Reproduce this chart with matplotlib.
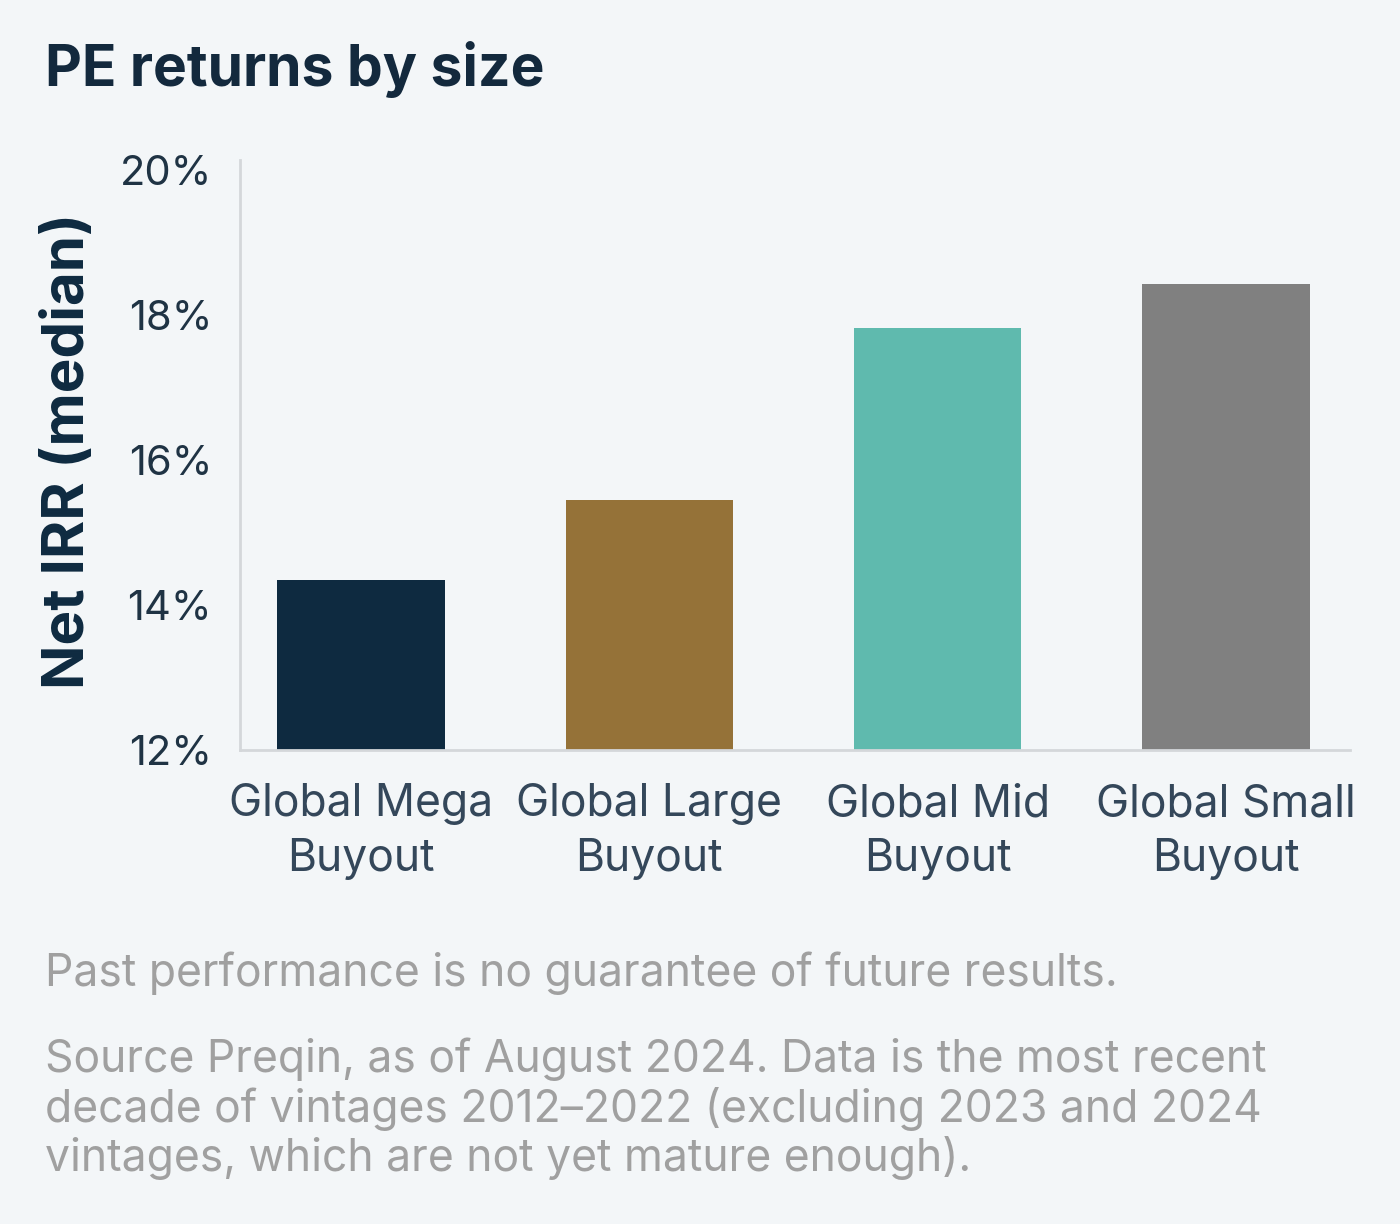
import matplotlib.pyplot as plt
from matplotlib.ticker import FuncFormatter

# data
categories = ['Global Mega\nBuyout', 'Global Large\nBuyout', 'Global Mid\nBuyout', 'Global Small\nBuyout']
net_irr = [14.35, 15.45, 17.82, 18.43]
bar_colors = ['#0e2a40', '#957238', '#5fbaae', '#808080']
y_ticks = [12, 14, 16, 18, 20]

bg = '#f3f6f8'
plt.rcParams['font.family'] = ['Inter', 'DejaVu Sans']

fig = plt.figure(figsize=(14, 12.24), dpi=100, facecolor=bg)
ax = fig.add_axes([0.1714, 0.3873, 0.7929, 0.482])
ax.set_facecolor(bg)

x = range(len(categories))
ax.bar(x, net_irr, width=0.58, color=bar_colors, zorder=2)

ax.set_ylim(12, 20.14)
ax.set_xlim(-0.42, 3.43)
ax.set_yticks(y_ticks)
ax.yaxis.set_major_formatter(FuncFormatter(lambda v, p: f'{v:.0f}%'))
ax.set_xticks(list(x))
ax.set_xticklabels(categories, fontsize=32, color='#34475a', linespacing=1.4)
ax.tick_params(axis='y', length=0, pad=20, labelsize=30, labelcolor='#1f3344')
ax.tick_params(axis='x', length=0, pad=24)

for s in ['top', 'right']:
    ax.spines[s].set_visible(False)
for s in ['left', 'bottom']:
    ax.spines[s].set_color('#d4d7da')
    ax.spines[s].set_linewidth(2)

ax.set_ylabel('Net IRR (median)', fontsize=42, fontweight='bold', color='#0e2a40')
ax.yaxis.set_label_coords(-0.13, 0.507)

fig.text(0.032, 0.943, 'PE returns by size', fontsize=41, fontweight='bold',
         color='#13293d', ha='left', va='center')

fig.text(0.032, 0.205, 'Past performance is no guarantee of future results.',
         fontsize=32, color='#a0a0a0', ha='left', va='center')
fig.text(0.032, 0.094,
         'Source Preqin, as of August 2024. Data is the most recent\n'
         'decade of vintages 2012\u20132022 (excluding 2023 and 2024\n'
         'vintages, which are not yet mature enough).',
         fontsize=32, color='#a0a0a0', ha='left', va='center', linespacing=1.15)

fig.savefig('out.png', dpi=100, facecolor=bg)
